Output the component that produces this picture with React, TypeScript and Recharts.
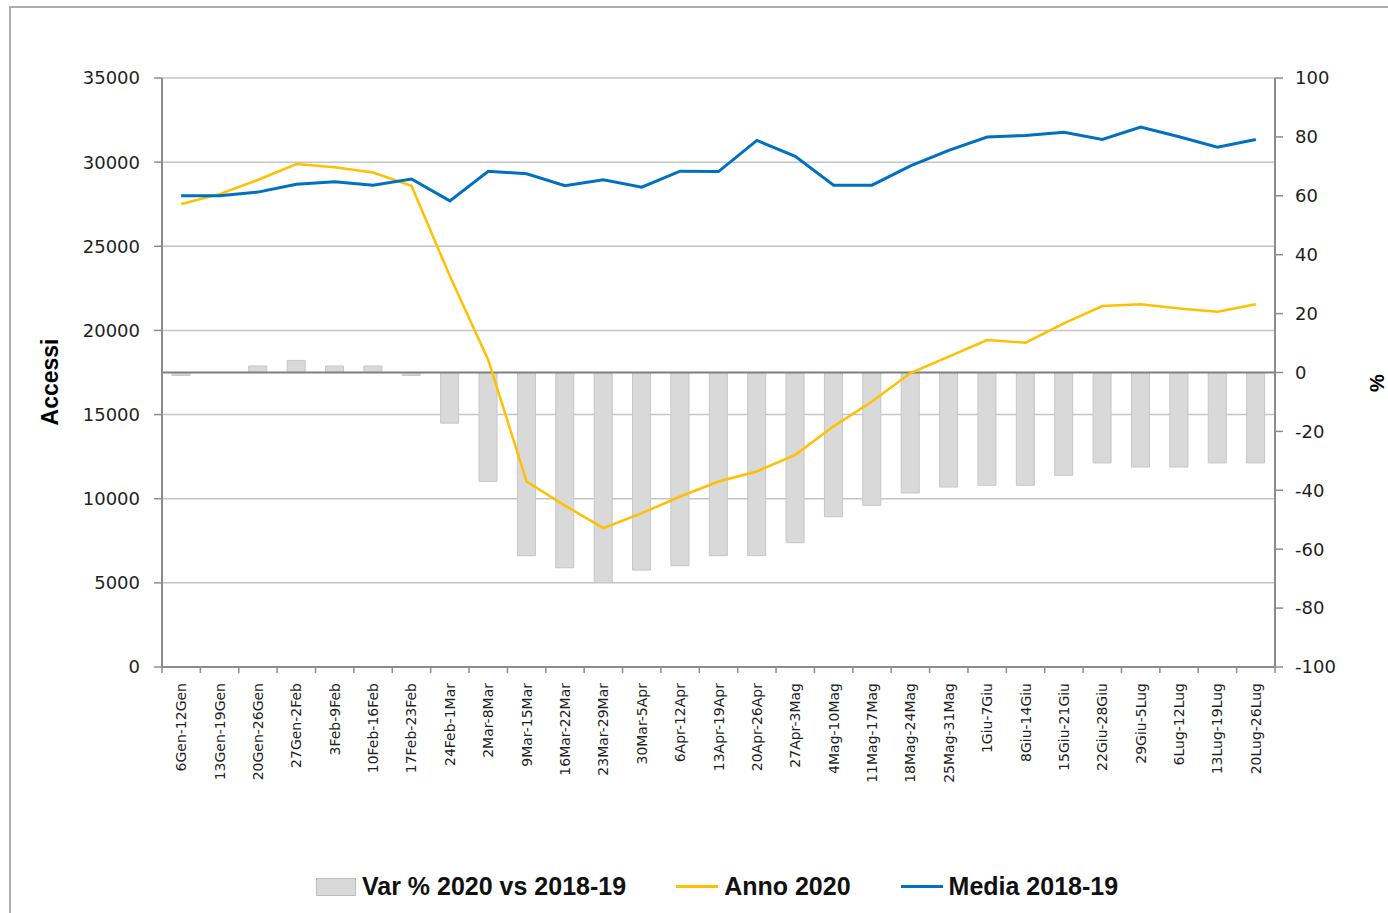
import {
  Bar,
  CartesianGrid,
  ComposedChart,
  Legend,
  Line,
  ReferenceLine,
  XAxis,
  YAxis,
} from 'recharts';

const weeks = [
  '6Gen-12Gen', '13Gen-19Gen', '20Gen-26Gen', '27Gen-2Feb', '3Feb-9Feb',
  '10Feb-16Feb', '17Feb-23Feb', '24Feb-1Mar', '2Mar-8Mar', '9Mar-15Mar',
  '16Mar-22Mar', '23Mar-29Mar', '30Mar-5Apr', '6Apr-12Apr', '13Apr-19Apr',
  '20Apr-26Apr', '27Apr-3Mag', '4Mag-10Mag', '11Mag-17Mag', '18Mag-24Mag',
  '25Mag-31Mag', '1Giu-7Giu', '8Giu-14Giu', '15Giu-21Giu', '22Giu-28Giu',
  '29Giu-5Lug', '6Lug-12Lug', '13Lug-19Lug', '20Lug-26Lug',
];

// % change 2020 vs mean 2018-19 (right axis)
const varPct = [
  -1, 0, 2.2, 4.1, 2.2, 2.2, -1, -17.2, -37, -62.2,
  -66.3, -71.3, -67.1, -65.6, -62.2, -62.2, -57.8, -49, -45.1, -40.9,
  -38.9, -38.3, -38.3, -34.9, -30.7, -32.1, -32.1, -30.7, -30.7,
];

// weekly accesses (left axis)
const anno2020 = [
  27510, 28100, 28940, 29890, 29690, 29380, 28600, 23230, 18250, 11020,
  9590, 8250, 9140, 10130, 11020, 11620, 12610, 14300, 15780, 17470,
  18440, 19430, 19270, 20420, 21450, 21550, 21310, 21110, 21550,
];

const media1819 = [
  28010, 28010, 28220, 28680, 28840, 28630, 29000, 27700, 29460, 29310,
  28600, 28950, 28510, 29460, 29440, 31290, 30340, 28630, 28630, 29780,
  30700, 31490, 31590, 31770, 31350, 32090, 31510, 30890, 31350,
];

const leftTicks = [0, 5000, 10000, 15000, 20000, 25000, 30000, 35000];
const rightTicks = [-100, -80, -60, -40, -20, 0, 20, 40, 60, 80, 100];

const SERIES_VAR = 'Var % 2020 vs 2018-19';
const SERIES_2020 = 'Anno 2020';
const SERIES_MEDIA = 'Media 2018-19';

const data = weeks.map((week, i) => ({
  week,
  varPct: varPct[i],
  anno2020: anno2020[i],
  media: media1819[i],
}));

const PLOT_W = 1113;
const AXIS_GREY = '#8c8c8c';
const TICK_FONT = { fontFamily: 'DejaVu Sans, Verdana, sans-serif', fontSize: 18, fill: '#1f1f1f' };

function WeekTick(props: any) {
  const { x, y, payload, index } = props;
  const bw = PLOT_W / weeks.length;
  const ty = y + 16;
  return (
    <g>
      <line x1={x - bw / 2} y1={y} x2={x - bw / 2} y2={y + 6} stroke={AXIS_GREY} strokeWidth={1.5} />
      {index === weeks.length - 1 && (
        <line x1={x + bw / 2} y1={y} x2={x + bw / 2} y2={y + 6} stroke={AXIS_GREY} strokeWidth={1.5} />
      )}
      <text
        x={x}
        y={ty}
        dy="0.36em"
        textAnchor="end"
        transform={`rotate(-90 ${x} ${ty})`}
        fontFamily="DejaVu Sans, Verdana, sans-serif"
        fontSize={14}
        fill="#1f1f1f"
      >
        {payload.value}
      </text>
    </g>
  );
}

function ChartLegend() {
  const item = { display: 'flex', alignItems: 'center', marginRight: 50 };
  const label = { marginLeft: 6 };
  return (
    <div
      style={{
        display: 'flex',
        alignItems: 'center',
        fontFamily: 'Liberation Sans, Arial, sans-serif',
        fontWeight: 'bold',
        fontSize: 25,
        color: '#111',
        whiteSpace: 'nowrap',
      }}
    >
      <div style={item}>
        <span style={{ width: 38, height: 16, background: '#d9d9d9', border: '1px solid #bdbdbd' }} />
        <span style={label}>{SERIES_VAR}</span>
      </div>
      <div style={item}>
        <span style={{ width: 42, height: 3, background: '#ffc000' }} />
        <span style={label}>{SERIES_2020}</span>
      </div>
      <div style={item}>
        <span style={{ width: 42, height: 3, background: '#0070c0' }} />
        <span style={label}>{SERIES_MEDIA}</span>
      </div>
    </div>
  );
}

export default function App() {
  return (
    <div style={{ position: 'absolute', left: 0, top: 0, width: 1388, height: 913, overflow: 'hidden', background: '#fff' }}>
      <div
        style={{
          position: 'absolute',
          left: 9,
          top: 6,
          width: 1420,
          height: 1000,
          border: '2px solid #adadad',
        }}
      />
      <div style={{ position: 'absolute', left: 0, top: 0 }}>
        <ComposedChart
          width={1388}
          height={913}
          data={data}
          margin={{ top: 78, right: 13, bottom: 106, left: 62 }}
          barSize={18}
        >
          <CartesianGrid yAxisId="left" vertical={false} stroke="#c4c4c4" strokeWidth={1.5} />
          <XAxis
            dataKey="week"
            interval={0}
            height={140}
            tick={<WeekTick />}
            tickLine={false}
            tickSize={0}
            tickMargin={0}
            axisLine={{ stroke: AXIS_GREY, strokeWidth: 2 }}
          />
          <YAxis
            yAxisId="left"
            width={100}
            domain={[0, 35000]}
            ticks={leftTicks}
            tick={TICK_FONT}
            tickSize={8}
            tickMargin={14}
            tickLine={{ stroke: AXIS_GREY, strokeWidth: 1.5 }}
            axisLine={{ stroke: AXIS_GREY, strokeWidth: 2 }}
            label={() => (
              <text
                x={50}
                y={382}
                transform="rotate(-90 50 382)"
                textAnchor="middle"
                dominantBaseline="central"
                fontFamily="Liberation Sans, Arial, sans-serif"
                fontWeight="bold"
                fontSize={23}
                fill="#000"
              >
                Accessi
              </text>
            )}
          />
          <YAxis
            yAxisId="right"
            orientation="right"
            width={100}
            domain={[-100, 100]}
            ticks={rightTicks}
            tick={{ ...TICK_FONT, textAnchor: 'start' }}
            tickSize={8}
            tickMargin={12}
            tickLine={{ stroke: AXIS_GREY, strokeWidth: 1.5 }}
            axisLine={{ stroke: AXIS_GREY, strokeWidth: 2 }}
            label={() => (
              <text
                x={1377}
                y={383}
                transform="rotate(-90 1377 383)"
                textAnchor="middle"
                dominantBaseline="central"
                fontFamily="Liberation Sans, Arial, sans-serif"
                fontWeight="bold"
                fontSize={20}
                fill="#000"
              >
                %
              </text>
            )}
          />
          <Legend
            layout="horizontal"
            verticalAlign="middle"
            align="center"
            wrapperStyle={{ left: 316, top: 872, width: 1000 }}
            content={() => <ChartLegend />}
          />
          <Bar
            yAxisId="right"
            dataKey="varPct"
            name={SERIES_VAR}
            fill="#d9d9d9"
            stroke="#c6c6c6"
            strokeWidth={1}
            isAnimationActive={false}
          />
          <ReferenceLine yAxisId="right" y={0} stroke="#7f7f7f" strokeWidth={2} />
          <Line
            yAxisId="left"
            dataKey="anno2020"
            name={SERIES_2020}
            stroke="#ffc000"
            strokeWidth={2.5}
            dot={false}
            type="linear"
            isAnimationActive={false}
          />
          <Line
            yAxisId="left"
            dataKey="media"
            name={SERIES_MEDIA}
            stroke="#0070c0"
            strokeWidth={3}
            dot={false}
            type="linear"
            isAnimationActive={false}
          />
        </ComposedChart>
      </div>
    </div>
  );
}
